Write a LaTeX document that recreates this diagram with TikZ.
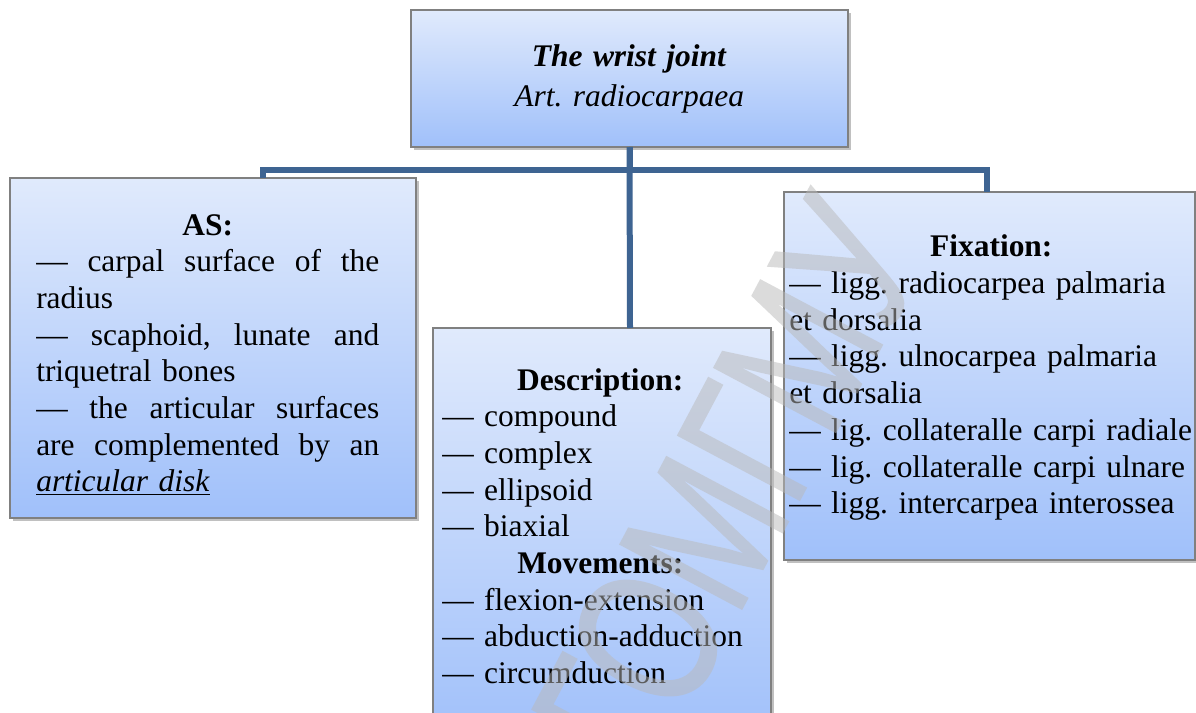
\documentclass[tikz,border=0pt]{standalone}
\usepackage{fontspec}
\setmainfont{Liberation Serif}
\newfontfamily\wmfont[FakeBold=1]{Liberation Sans}
\usetikzlibrary{shadows,fit,calc}

\definecolor{linkblue}{RGB}{62,100,146}
\definecolor{boxtop}{RGB}{224,234,252}
\definecolor{boxbot}{RGB}{160,192,250}
\definecolor{boxline}{RGB}{128,128,128}
\definecolor{stampgray}{RGB}{185,185,185}

% a line spread evenly over the full width
\newcommand{\spread}[1]{\makebox[\linewidth]{#1}}

\begin{document}
\frenchspacing
\begin{tikzpicture}[x=0.75pt,y=-0.75pt,
  card/.style={draw=boxline, line width=0.9pt, top color=boxtop, bottom color=boxbot,
    inner sep=0pt, outer sep=0pt,
    drop shadow={shadow xshift=2pt, shadow yshift=-2.5pt, opacity=0.35, fill=black!70}},
  link/.style={draw=linkblue, line width=4.5pt},
  body/.style={anchor=base west, inner sep=0pt, align=left,
    font=\fontsize{23.6}{27.5}\selectfont\frenchspacing},
  stamp/.style={font=\wmfont\fontsize{111}{111}\selectfont, text=stampgray,
    inner sep=0pt}
]
\path[use as bounding box, fill=white] (0,0) rectangle (1196,713);
\clip (0,0) rectangle (1196,713);

% boxes
\node[card, fit={(411,10) (848,147)}] (top) {};
\node[card, fit={(10,178) (416,518)}] (as) {};
\node[card, fit={(433,328) (771,740)}] (desc) {};
\node[card, fit={(784,192) (1195,560)}] (fix) {};

% connectors
\draw[link] (top.south) -- ++(0,23) -| ([xshift=37.5pt]as.north);
\draw[link] (top.south) -- ([xshift=21pt]desc.north);
\draw[link] (top.south) -- ++(0,23) -| ([xshift=-2.25pt]fix.north);

% title
\node[body, text width=300pt] (toptext) at (429,67) {%
\spread{\textbf{\textit{The wrist joint}}}\\[2.5pt]
\spread{\textit{Art. radiocarpaea}}};

% articular surfaces
\node[body, text width=257.25pt] (astext) at (36,235) {%
\spread{\textbf{AS:}}\\
\spread{—\hfill carpal\hfill surface\hfill of\hfill the}\\
radius\\
\spread{—\hfill scaphoid,\hfill lunate\hfill and}\\
triquetral bones\\
\spread{—\hfill the\hfill articular\hfill surfaces}\\
\spread{are\hfill complemented\hfill by\hfill an}\\
\underline{\textit{articular disk}}};

% description and movements
\node[body, text width=237pt] (desctext) at (442,390) {%
\spread{\textbf{Description:}}\\
— compound\\
— complex\\
— ellipsoid\\
— biaxial\\
\spread{\textbf{Movements:}}\\
— flexion-extension\\
— abduction-adduction\\
— circumduction};

% fixation
\node[body, text width=303pt] (fixtext) at (789,257) {%
\spread{\textbf{Fixation:}}\\
\mbox{— ligg. radiocarpea palmaria}\\
et dorsalia\\
\mbox{— ligg. ulnocarpea palmaria}\\
et dorsalia\\
\mbox{— lig. collateralle carpi radiale}\\
\mbox{— lig. collateralle carpi ulnare}\\
\mbox{— ligg. intercarpea interossea}};

% watermark, laid over everything as one translucent layer
\begin{scope}[transparency group, opacity=0.5, shift={(648,785)}, rotate=62, yscale=1.35]
\node[stamp, transform shape, anchor=base west] (wm) at (0,0) {ГОМГМУ};
\end{scope}
\end{tikzpicture}
\end{document}
